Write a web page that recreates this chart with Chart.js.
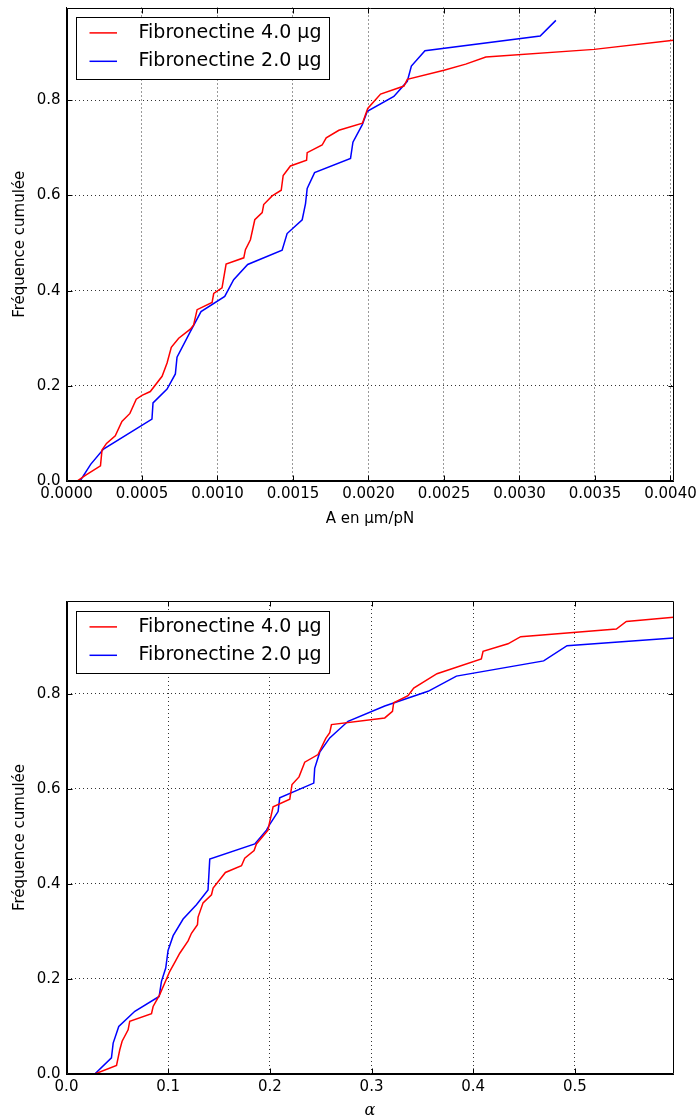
<!DOCTYPE html>
<html>
<head>
<meta charset="utf-8">
<script src="https://cdn.jsdelivr.net/npm/chart.js@4/dist/chart.umd.min.js"></script>
<style>
  html, body { margin: 0; padding: 0; background: #fff; width: 697px; height: 1120px; overflow: hidden; }
  canvas { position: absolute; left: 0; }
  #c1 { top: 0; }
  #c2 { top: 555px; }
</style>
</head>
<body>
<canvas id="c1" width="697" height="560"></canvas>
<canvas id="c2" width="697" height="565"></canvas>
<script>
// ---------- Data ----------
const seriesLabels = ['Fibronectine 4.0 \u00b5g', 'Fibronectine 2.0 \u00b5g'];

// Top panel: A en µm/pN
const aRedX = [0.00007, 0.00013, 0.000225, 0.000235, 0.000265, 0.000323, 0.000367, 0.00042, 0.000462, 0.0005, 0.000555, 0.000633, 0.000666, 0.000694, 0.000743, 0.00082, 0.000842, 0.000865, 0.000964, 0.000975, 0.00103, 0.001057, 0.001174, 0.001185, 0.001218, 0.001247, 0.001296, 0.001306, 0.001362, 0.001422, 0.001435, 0.001483, 0.00159, 0.001594, 0.001693, 0.00172, 0.001804, 0.00196, 0.001995, 0.00208, 0.002235, 0.002257, 0.0025, 0.002644, 0.002777, 0.003495, 0.00402];
const aRedY = [0.0, 0.013, 0.032, 0.065, 0.079, 0.095, 0.125, 0.142, 0.172, 0.18, 0.188, 0.22, 0.248, 0.281, 0.30, 0.319, 0.328, 0.36, 0.375, 0.394, 0.406, 0.456, 0.469, 0.486, 0.507, 0.549, 0.564, 0.581, 0.599, 0.611, 0.642, 0.662, 0.674, 0.69, 0.706, 0.721, 0.737, 0.752, 0.783, 0.813, 0.83, 0.844, 0.863, 0.876, 0.891, 0.907, 0.926];
const aBlueX = [0.00009, 0.00016, 0.000245, 0.000566, 0.000573, 0.000666, 0.000721, 0.000732, 0.00082, 0.000891, 0.001048, 0.001107, 0.0012, 0.001428, 0.001461, 0.001561, 0.001583, 0.001594, 0.001643, 0.001881, 0.001897, 0.001959, 0.001992, 0.002168, 0.002257, 0.002284, 0.002374, 0.003137, 0.003241];
const aBlueY = [0.0, 0.035, 0.067, 0.13, 0.164, 0.193, 0.225, 0.26, 0.314, 0.356, 0.388, 0.423, 0.455, 0.485, 0.52, 0.549, 0.583, 0.615, 0.648, 0.678, 0.712, 0.749, 0.777, 0.808, 0.84, 0.872, 0.904, 0.935, 0.968];
const aXTicks = [0, 0.0005, 0.001, 0.0015, 0.002, 0.0025, 0.003, 0.0035, 0.004];

// Bottom panel: alpha
const alRedX = [0.0278, 0.0492, 0.0524, 0.0547, 0.0606, 0.0622, 0.0836, 0.0852, 0.0917, 0.1016, 0.1065, 0.1114, 0.1196, 0.1229, 0.1288, 0.1294, 0.1343, 0.1426, 0.1442, 0.1563, 0.1721, 0.1753, 0.1845, 0.1868, 0.1982, 0.1992, 0.2032, 0.2196, 0.2218, 0.2287, 0.2343, 0.2474, 0.255, 0.2589, 0.2606, 0.313, 0.3206, 0.3218, 0.3359, 0.3415, 0.3644, 0.408, 0.4097, 0.4342, 0.4467, 0.5408, 0.5506, 0.597];
const alRedY = [0.0, 0.018, 0.051, 0.069, 0.093, 0.111, 0.127, 0.142, 0.167, 0.216, 0.235, 0.254, 0.28, 0.296, 0.314, 0.33, 0.36, 0.377, 0.391, 0.424, 0.438, 0.454, 0.47, 0.484, 0.513, 0.524, 0.562, 0.578, 0.609, 0.625, 0.656, 0.672, 0.706, 0.718, 0.735, 0.749, 0.763, 0.781, 0.796, 0.812, 0.842, 0.873, 0.889, 0.905, 0.92, 0.936, 0.952, 0.961];
const alBlueX = [0.0278, 0.0442, 0.0459, 0.0514, 0.0672, 0.0911, 0.0934, 0.0976, 0.0999, 0.1049, 0.1147, 0.1278, 0.1392, 0.1409, 0.1852, 0.1967, 0.1999, 0.2081, 0.2097, 0.2432, 0.2441, 0.2491, 0.2589, 0.2769, 0.313, 0.3556, 0.3835, 0.4693, 0.4923, 0.597];
const alBlueY = [0.0, 0.034, 0.065, 0.1, 0.132, 0.163, 0.195, 0.223, 0.26, 0.291, 0.326, 0.356, 0.387, 0.452, 0.484, 0.513, 0.525, 0.552, 0.581, 0.612, 0.643, 0.677, 0.707, 0.742, 0.774, 0.805, 0.837, 0.869, 0.901, 0.917];
const alXTicks = [0, 0.1, 0.2, 0.3, 0.4, 0.5];

const yTicks = [0, 0.2, 0.4, 0.6, 0.8];

// ---------- Styling ----------
Chart.defaults.font.family = "'DejaVu Sans', sans-serif";
Chart.defaults.font.size = 15;
Chart.defaults.color = '#000';

const toPts = (xs, ys) => xs.map((x, i) => ({x: x, y: ys[i]}));

const framePlugin = {
  id: 'frameLegend',
  afterDatasetsDraw(chart) {
    const {ctx, chartArea: a, scales: {x, y}} = chart;
    const L = Math.round(a.left) + 0.5, R = Math.round(a.right) - 0.5;
    const T = Math.round(a.top) + 0.5, B = Math.round(a.bottom) - 0.5;
    ctx.save();
    ctx.strokeStyle = '#000';
    ctx.lineWidth = 1;
    ctx.setLineDash([]);
    ctx.beginPath();
    ctx.rect(L, T, R - L, B - T);
    x.ticks.forEach(t => {
      const p = Math.round(x.getPixelForValue(t.value)) + 0.5;
      ctx.moveTo(p, B); ctx.lineTo(p, B - 5);
      ctx.moveTo(p, T); ctx.lineTo(p, T + 5);
    });
    y.ticks.forEach(t => {
      const p = Math.round(y.getPixelForValue(t.value)) + 0.5;
      ctx.moveTo(L, p); ctx.lineTo(L + 5, p);
      ctx.moveTo(R, p); ctx.lineTo(R - 5, p);
    });
    ctx.stroke();

    // legend box inside the plot area
    const bx = Math.round(a.left + 9.5) + 0.5, by = Math.round(a.top + 9.5) + 0.5;
    const bw = 253, bh = 62;
    ctx.fillStyle = '#fff';
    ctx.fillRect(bx, by, bw, bh);
    ctx.strokeStyle = '#000';
    ctx.lineWidth = 1;
    ctx.strokeRect(bx, by, bw, bh);
    ctx.font = "19px 'DejaVu Sans', sans-serif";
    ctx.textBaseline = 'middle';
    ctx.textAlign = 'left';
    chart.data.datasets.forEach((ds, i) => {
      const ry = by + 15.4 + i * 28.4;
      ctx.strokeStyle = ds.borderColor;
      ctx.lineWidth = 1.5;
      ctx.beginPath();
      ctx.moveTo(bx + 13, ry);
      ctx.lineTo(bx + 40.5, ry);
      ctx.stroke();
      ctx.fillStyle = '#000';
      ctx.fillText(ds.label, bx + 62, ry);
    });
    ctx.restore();
  }
};

function makeChart(canvasId, datasets, xTicks, xMax, xDecimals, xTitleFont, xTitle, pad, xHeight) {
  return new Chart(document.getElementById(canvasId), {
    type: 'scatter',
    data: { datasets: datasets },
    plugins: [framePlugin],
    options: {
      responsive: false,
      animation: false,
      events: [],
      layout: { padding: pad },
      plugins: { legend: { display: false }, tooltip: { enabled: false } },
      elements: { point: { radius: 0 }, line: { tension: 0 } },
      scales: {
        x: {
          type: 'linear',
          min: 0,
          max: xMax,
          afterBuildTicks: s => { s.ticks = xTicks.map(v => ({value: v})); },
          afterFit: s => { s.height = xHeight; s.paddingLeft = 0; s.paddingRight = 0; },
          ticks: {
            autoSkip: false, maxRotation: 0, minRotation: 0, padding: 4,
            callback: v => Number(v).toFixed(xDecimals)
          },
          grid: { color: '#333', lineWidth: 1, drawTicks: false },
          border: { display: true, color: '#000', width: 1, dash: [1, 3] },
          title: { display: true, text: xTitle, font: xTitleFont, padding: {top: 4, bottom: 0} }
        },
        y: {
          type: 'linear',
          min: 0,
          max: 0.995,
          afterBuildTicks: s => { s.ticks = yTicks.map(v => ({value: v})); },
          afterFit: s => { s.width = 59; s.paddingTop = 0; s.paddingBottom = 0; },
          ticks: { padding: 6, callback: v => Number(v).toFixed(1) },
          grid: { color: '#333', lineWidth: 1, drawTicks: false },
          border: { display: true, color: '#000', width: 1, dash: [1, 3] },
          title: { display: true, text: 'Fr\u00e9quence cumul\u00e9e', padding: {top: 4, bottom: 4} }
        }
      }
    }
  });
}

const mkDs = (label, color, pts) => ({
  label: label, data: pts, showLine: true, borderColor: color, backgroundColor: color,
  borderWidth: 1.5, pointRadius: 0, fill: false
});

makeChart('c1', [
  mkDs(seriesLabels[0], '#ff0000', toPts(aRedX, aRedY)),
  mkDs(seriesLabels[1], '#0000ff', toPts(aBlueX, aBlueY))
], aXTicks, 0.00402, 4, {size: 15}, 'A en \u00b5m/pN',
  {left: 7.5, top: 7.5, right: 23.5, bottom: 32}, 47);

makeChart('c2', [
  mkDs(seriesLabels[0], '#ff0000', toPts(alRedX, alRedY)),
  mkDs(seriesLabels[1], '#0000ff', toPts(alBlueX, alBlueY))
], alXTicks, 0.597, 1, {size: 16, style: 'italic', family: "'DejaVu Serif', serif"}, '\u03b1',
  {left: 7.5, top: 46, right: 23.5, bottom: 0}, 46);
</script>
</body>
</html>
